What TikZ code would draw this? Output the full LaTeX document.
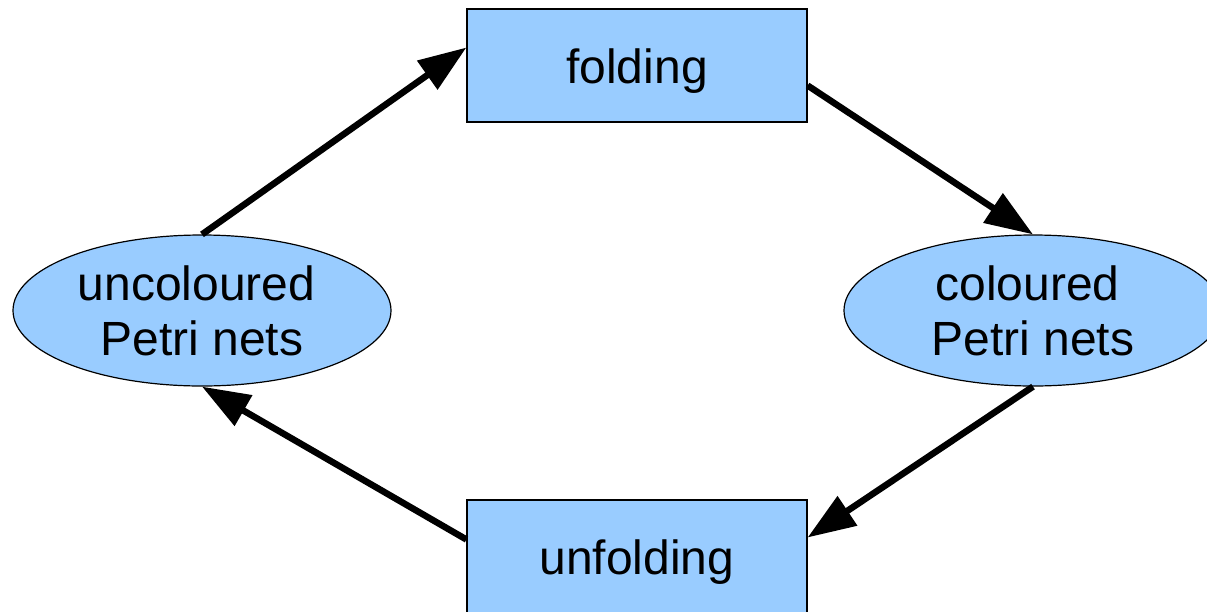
\documentclass[tikz,border=0pt]{standalone}
\usepackage{fontspec}
\setmainfont{Liberation Sans}
\usetikzlibrary{arrows.meta,shapes.geometric}
\definecolor{boxblue}{HTML}{99CCFF}
\begin{document}
\begin{tikzpicture}[x=1pt,y=-1pt,
  lbl/.style={font=\fontsize{48}{55}\selectfont, text=black},
  procbox/.style={lbl, draw=black, line width=1.2pt, fill=boxblue, rectangle, minimum width=340pt, minimum height=113pt, inner sep=0pt, text height=45pt, text depth=10pt},
  netell/.style={lbl, align=center, draw=black, line width=1.2pt, fill=boxblue, ellipse, minimum width=378pt, minimum height=151pt, inner sep=0pt},
  conn/.style={line width=6.5pt, -{Triangle[length=48pt,width=34pt]}}]
\useasboundingbox (0,0) rectangle (1207,611);
\node[procbox] (F) at (637,65.5) {folding};
\node[procbox] (U) at (637,556.5) {unfolding};
\node[netell] (L) at (202,310.5) {uncoloured\rule{11pt}{0pt}\\Petri nets};
\node[netell] (R) at (1033,310.5) {coloured\rule{11pt}{0pt}\\Petri nets};
\draw[conn] (L.north) -- ([yshift=18pt]F.west);
\draw[conn] ([yshift=-20pt]F.east) -- (R.north);
\draw[conn] (R.south) -- ([yshift=19pt]U.east);
\draw[conn] ([yshift=17pt]U.west) -- (L.south);
\end{tikzpicture}
\end{document}
